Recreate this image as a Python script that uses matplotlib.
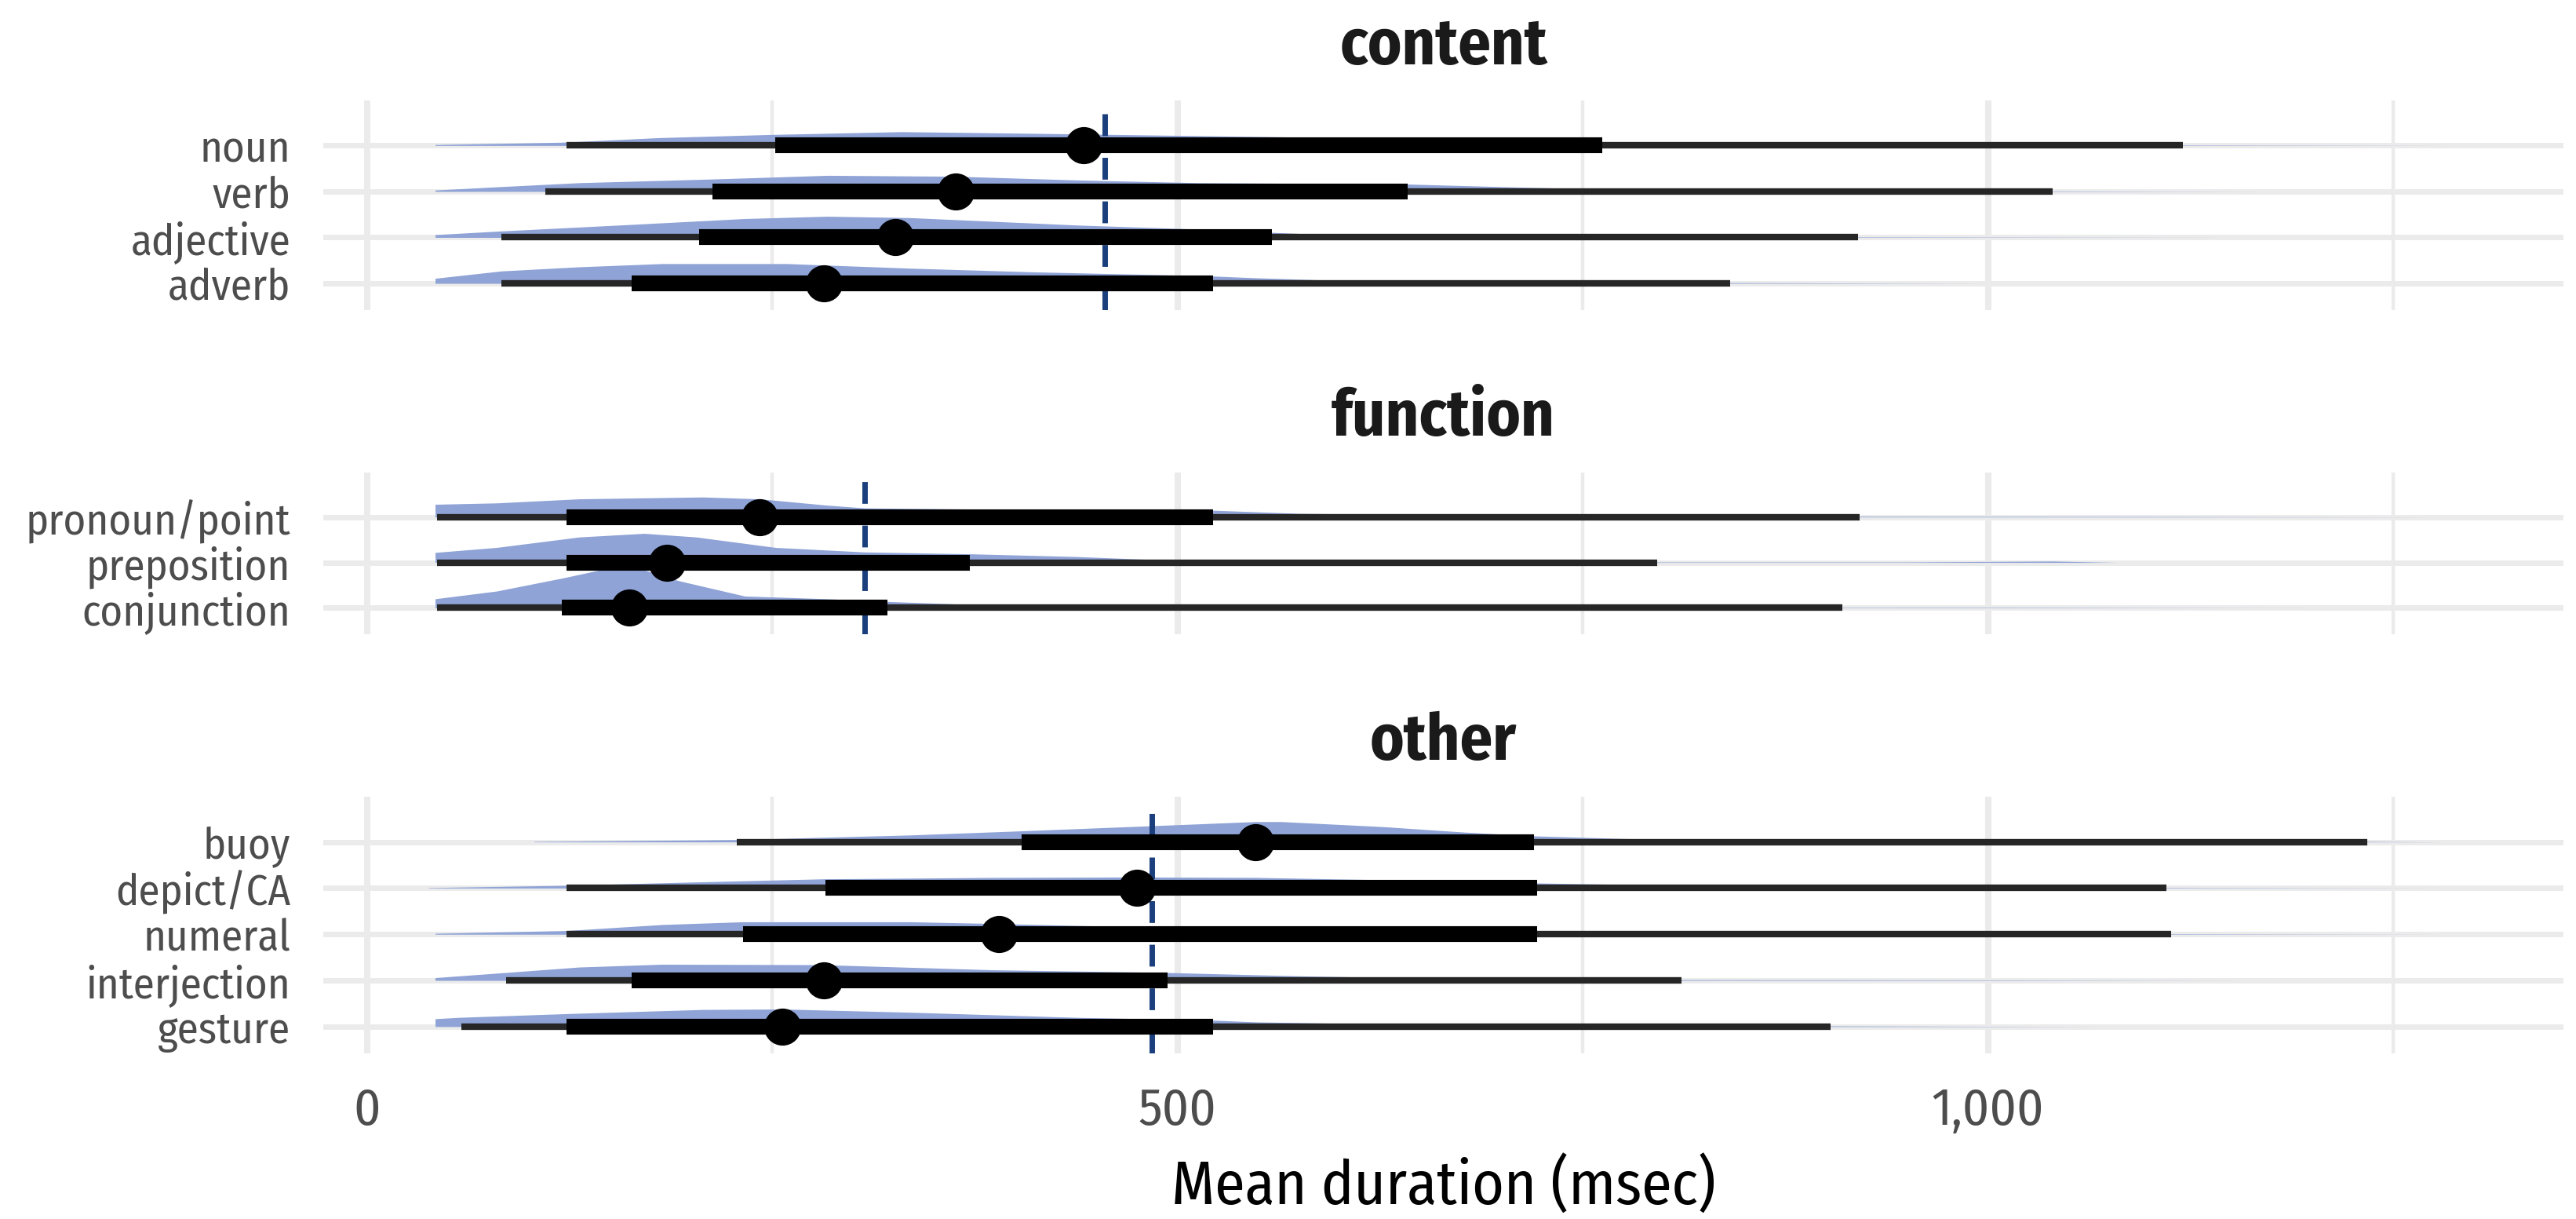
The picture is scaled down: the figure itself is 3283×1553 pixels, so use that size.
import matplotlib
matplotlib.use("Agg")
import matplotlib.pyplot as plt

# ---- data ----
facets = ["content", "function", "other"]

rows_content = ["noun", "verb", "adjective", "adverb"]
rows_function = ["pronoun/point", "preposition", "conjunction"]
rows_other = ["buoy", "depict/CA", "numeral", "interjection", "gesture"]

# 95% interval, 66% interval, median (msec)
lo95 = {"noun": 123, "verb": 110, "adjective": 83, "adverb": 83,
        "pronoun/point": 43, "preposition": 43, "conjunction": 43,
        "buoy": 228, "depict/CA": 123, "numeral": 123, "interjection": 86, "gesture": 58}
lo66 = {"noun": 252, "verb": 213, "adjective": 205, "adverb": 163,
        "pronoun/point": 123, "preposition": 123, "conjunction": 120,
        "buoy": 404, "depict/CA": 283, "numeral": 232, "interjection": 163, "gesture": 123}
median = {"noun": 442, "verb": 363, "adjective": 326, "adverb": 282,
          "pronoun/point": 242, "preposition": 185, "conjunction": 162,
          "buoy": 548, "depict/CA": 475, "numeral": 390, "interjection": 282, "gesture": 256}
hi66 = {"noun": 762, "verb": 642, "adjective": 558, "adverb": 522,
        "pronoun/point": 522, "preposition": 372, "conjunction": 321,
        "buoy": 720, "depict/CA": 722, "numeral": 722, "interjection": 494, "gesture": 522}
hi95 = {"noun": 1120, "verb": 1040, "adjective": 920, "adverb": 841,
        "pronoun/point": 921, "preposition": 796, "conjunction": 910,
        "buoy": 1234, "depict/CA": 1110, "numeral": 1113, "interjection": 811, "gesture": 903}

facet_means = [455, 307, 484]

# density slab outlines: x positions and heights (in row units)
slab_x = {
    "noun": [42, 120, 180, 250, 330, 420, 500, 580, 680, 760, 860, 1000, 1150, 1290],
    "verb": [42, 80, 131, 213, 284, 363, 437, 513, 642, 704, 750, 860, 1040, 1170],
    "adjective": [42, 83, 162, 233, 284, 335, 437, 513, 558, 600, 756, 920, 1150],
    "adverb": [42, 83, 131, 182, 259, 335, 411, 487, 521, 549, 611, 700, 841, 1000],
    "pronoun/point": [42, 80, 131, 207, 242, 284, 307, 386, 521, 575, 704, 900, 1100, 1280],
    "preposition": [42, 80, 131, 171, 203, 252, 307, 371, 437, 487, 573, 796, 950, 1040, 1080],
    "conjunction": [42, 80, 121, 152, 167, 192, 233, 284, 321, 360, 386, 500, 700, 1000, 1200],
    "buoy": [103, 228, 335, 404, 484, 548, 564, 627, 678, 720, 808, 1000, 1234, 1280],
    "depict/CA": [38, 123, 200, 282, 386, 475, 549, 627, 721, 860, 1110, 1284],
    "numeral": [42, 123, 182, 232, 335, 390, 487, 549, 627, 721, 808, 1113, 1280],
    "interjection": [42, 85, 131, 182, 281, 386, 494, 573, 650, 811, 1000, 1160],
    "gesture": [42, 57, 123, 207, 256, 335, 437, 521, 549, 653, 903, 1068],
}
slab_h = {
    "noun": [0.02, 0.07, 0.17, 0.24, 0.30, 0.26, 0.22, 0.18, 0.12, 0.07, 0.03, 0.015, 0.008, 0],
    "verb": [0.03, 0.10, 0.19, 0.27, 0.35, 0.33, 0.25, 0.19, 0.16, 0.10, 0.06, 0.02, 0.01, 0],
    "adjective": [0.06, 0.14, 0.28, 0.41, 0.46, 0.43, 0.27, 0.18, 0.11, 0.05, 0.02, 0.01, 0],
    "adverb": [0.11, 0.27, 0.36, 0.43, 0.43, 0.33, 0.25, 0.19, 0.16, 0.12, 0.05, 0.03, 0.015, 0],
    "pronoun/point": [0.28, 0.31, 0.40, 0.44, 0.40, 0.26, 0.20, 0.17, 0.15, 0.08, 0.03, 0.015, 0.01, 0],
    "preposition": [0.22, 0.33, 0.56, 0.64, 0.56, 0.33, 0.23, 0.19, 0.13, 0.06, 0.02, 0.01, 0.01, 0.03, 0],
    "conjunction": [0.20, 0.37, 0.66, 0.90, 0.88, 0.60, 0.26, 0.20, 0.14, 0.09, 0.04, 0.02, 0.005, 0.01, 0],
    "buoy": [0.01, 0.05, 0.15, 0.24, 0.35, 0.44, 0.44, 0.33, 0.21, 0.13, 0.04, 0.02, 0.01, 0],
    "depict/CA": [0.01, 0.06, 0.13, 0.20, 0.23, 0.24, 0.23, 0.18, 0.11, 0.03, 0.01, 0],
    "numeral": [0.02, 0.08, 0.21, 0.27, 0.27, 0.23, 0.15, 0.10, 0.06, 0.04, 0.02, 0.01, 0],
    "interjection": [0.06, 0.17, 0.29, 0.35, 0.34, 0.23, 0.17, 0.10, 0.05, 0.015, 0.01, 0],
    "gesture": [0.17, 0.20, 0.28, 0.37, 0.38, 0.31, 0.20, 0.14, 0.10, 0.04, 0.015, 0],
}

x_major = [0, 500, 1000]
x_minor = [250, 750, 1250]
x_ticklabels = ["0", "500", "1,000"]

# ---- style ----
plt.rcParams["font.family"] = ["Fira Sans Condensed", "Roboto", "DejaVu Sans"]
slab_col = "#8FA3D6"
mean_col = "#1B3F7C"
grid_col = "#EBEBEB"

W, H = 3283, 1553
fig = plt.figure(figsize=(W / 100, H / 100), dpi=100)

# panel extents in pixels (top, bottom)
panel_px = [(128, 395), (602, 808), (1015, 1342)]
title_base_px = [82, 555, 968]
left_px, right_px = 412, 3267

all_rows = [rows_content, rows_function, rows_other]
for i, (facet, rows) in enumerate(zip(facets, all_rows)):
    top, bot = panel_px[i]
    ax = fig.add_axes([left_px / W, 1 - bot / H, (right_px - left_px) / W, (bot - top) / H])
    n = len(rows)
    ymin, ymax = 0.42, n + 0.98
    ax.set_xlim(-27, 1355)
    ax.set_ylim(ymin, ymax)
    ax.set_axisbelow(True)

    for j, r in enumerate(rows):
        y = n - j
        ax.fill_between(slab_x[r], y, [y + h for h in slab_h[r]],
                        color=slab_col, lw=0, zorder=2)
        ax.plot([lo95[r], hi95[r]], [y, y], color="#262626", lw=6,
                solid_capstyle="butt", zorder=4)
        ax.plot([lo66[r], hi66[r]], [y, y], color="black", lw=14.5,
                solid_capstyle="butt", zorder=5)
        ax.plot(median[r], y, "o", color="black", ms=34, mew=0, zorder=6)

    # dashed mean line, drawn bottom to top
    ax.plot([facet_means[i], facet_means[i]], [ymin, ymax], color=mean_col,
            lw=5, linestyle=(0, (4, 4)), zorder=3)

    ax.set_yticks(range(n, 0, -1))
    ax.set_yticklabels(rows, fontsize=39.5, color="#4D4D4D")
    ax.set_xticks(x_major)
    ax.set_xticks(x_minor, minor=True)
    if i == 2:
        ax.set_xticklabels(x_ticklabels, fontsize=48, color="#4D4D4D")
    else:
        ax.set_xticklabels([])
    ax.tick_params(which="both", length=0)
    ax.tick_params(axis="y", pad=30)
    ax.tick_params(axis="x", pad=30)
    ax.grid(axis="x", which="major", color=grid_col, lw=5.8)
    ax.grid(axis="x", which="minor", color=grid_col, lw=3.2)
    ax.grid(axis="y", which="major", color=grid_col, lw=5)
    for s in ax.spines.values():
        s.set_visible(False)

    fig.text((left_px + right_px) / 2 / W, 1 - title_base_px[i] / H, facet,
             ha="center", va="baseline", fontsize=59, fontweight="bold", color="#1A1A1A")

fig.text((left_px + right_px) / 2 / W, 1 - 1534 / H, "Mean duration (msec)",
         ha="center", va="baseline", fontsize=56, color="black")

fig.savefig("out.png", dpi=100)
